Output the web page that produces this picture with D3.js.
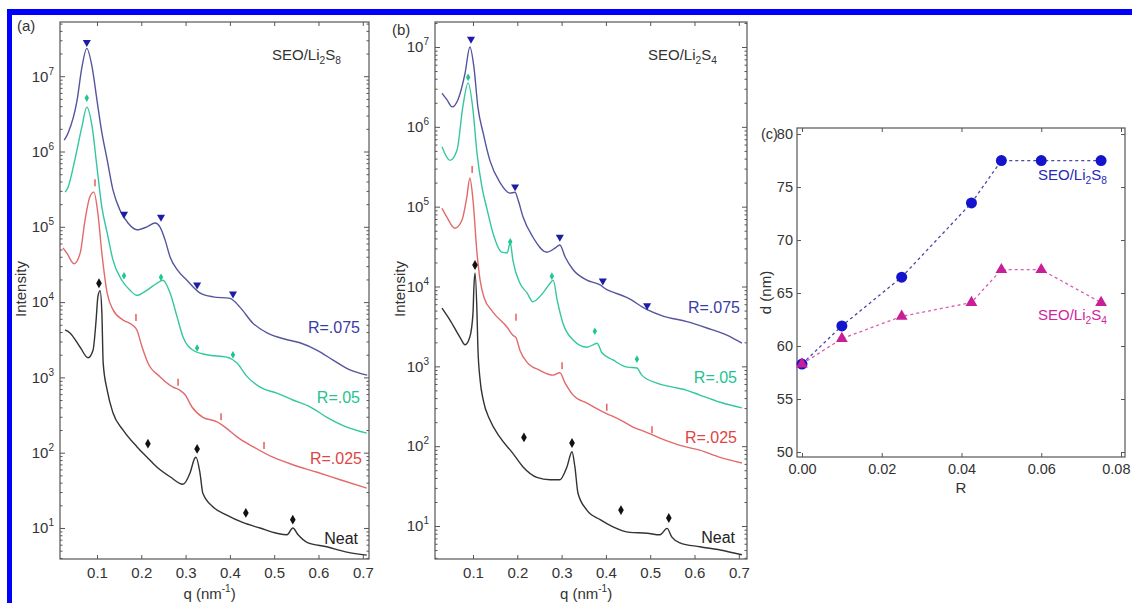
<!DOCTYPE html>
<html>
<head>
  <meta charset="utf-8">
  <script src="https://d3js.org/d3.v7.min.js"></script>
  <style>
    body { margin: 0; background: #fff; }
    svg text { font-family: "Liberation Sans", Arial, sans-serif; fill: #333; }
    .tick line { stroke: #555; }
  </style>
</head>
<body>
<script>
// ---- shared axis values ----
var qTicks = [0.1, 0.2, 0.3, 0.4, 0.5, 0.6, 0.7];
var rTicks = [0, 0.02, 0.04, 0.06, 0.08];
var dTicks = [50, 55, 60, 65, 70, 75, 80];

// ---- panel (a) SEO/Li2S8 : [q (nm^-1), log10 intensity] ----
var aR075 = [[0.026,6.15],[0.035,6.25],[0.055,6.68],[0.066,7.12],[0.077,7.37],[0.089,7.12],[0.100,6.68],[0.111,6.25],[0.123,5.89],[0.136,5.49],[0.152,5.22],[0.170,5.05],[0.190,4.96],[0.213,5.00],[0.231,5.05],[0.242,5.00],[0.254,4.82],[0.265,4.60],[0.281,4.43],[0.303,4.29],[0.333,4.12],[0.362,4.07],[0.400,4.05],[0.423,3.93],[0.452,3.72],[0.484,3.59],[0.529,3.50],[0.558,3.46],[0.597,3.36],[0.633,3.23],[0.671,3.10],[0.710,3.03]];
var aR05 = [[0.028,5.46],[0.035,5.53],[0.050,5.89],[0.066,6.33],[0.077,6.59],[0.089,6.33],[0.100,5.79],[0.111,5.26],[0.123,4.92],[0.136,4.56],[0.156,4.29],[0.174,4.16],[0.190,4.09],[0.213,4.16],[0.235,4.25],[0.249,4.29],[0.265,4.12],[0.281,3.80],[0.294,3.54],[0.317,3.36],[0.348,3.30],[0.393,3.27],[0.416,3.19],[0.439,3.01],[0.468,2.87],[0.506,2.79],[0.542,2.70],[0.581,2.61],[0.619,2.47],[0.664,2.34],[0.709,2.26]];
var aR025 = [[0.023,4.72],[0.032,4.65],[0.048,4.51],[0.062,4.65],[0.073,5.09],[0.084,5.40],[0.093,5.46],[0.102,5.18],[0.111,4.65],[0.123,4.12],[0.136,3.90],[0.159,3.76],[0.179,3.70],[0.190,3.63],[0.202,3.40],[0.215,3.19],[0.242,3.01],[0.272,2.87],[0.287,2.83],[0.299,2.77],[0.314,2.61],[0.339,2.47],[0.371,2.41],[0.389,2.34],[0.416,2.21],[0.452,2.08],[0.497,1.94],[0.542,1.84],[0.597,1.74],[0.649,1.64],[0.709,1.53]];
var aNeat = [[0.028,3.63],[0.039,3.59],[0.062,3.40],[0.080,3.26],[0.091,3.36],[0.098,3.76],[0.102,4.07],[0.107,4.15],[0.111,3.86],[0.114,3.19],[0.123,2.83],[0.136,2.53],[0.159,2.30],[0.190,2.08],[0.213,1.94],[0.235,1.81],[0.265,1.68],[0.294,1.58],[0.310,1.73],[0.321,1.93],[0.3235,1.94],[0.3325,1.73],[0.339,1.46],[0.362,1.28],[0.393,1.17],[0.430,1.07],[0.468,1.00],[0.506,0.93],[0.529,0.91],[0.542,1.00],[0.554,0.91],[0.574,0.81],[0.619,0.75],[0.664,0.68],[0.709,0.64]];
var aR075Marks = [[0.077,7.45],[0.161,5.17],[0.2445,5.13],[0.326,4.23],[0.407,4.11]];
var aR05Marks = [[0.077,6.71],[0.161,4.35],[0.2445,4.33],[0.326,3.39],[0.407,3.30]];
var aR025Marks = [[0.0955,5.58],[0.188,3.79],[0.283,2.93],[0.380,2.47],[0.477,2.09]];
var aNeatMarks = [[0.1045,4.25],[0.215,2.12],[0.326,2.05],[0.436,1.20],[0.542,1.11]];

// ---- panel (b) SEO/Li2S4 ----
var bR075 = [[0.030,6.42],[0.041,6.34],[0.053,6.25],[0.066,6.34],[0.082,6.67],[0.093,7.00],[0.102,6.75],[0.111,6.25],[0.123,5.92],[0.138,5.58],[0.161,5.30],[0.183,5.17],[0.195,5.18],[0.202,5.08],[0.213,4.87],[0.235,4.62],[0.267,4.43],[0.285,4.48],[0.296,4.52],[0.308,4.37],[0.326,4.21],[0.357,4.08],[0.387,4.02],[0.402,3.96],[0.416,3.93],[0.448,3.86],[0.493,3.71],[0.529,3.63],[0.583,3.56],[0.628,3.48],[0.673,3.39],[0.707,3.29]];
var bR05 = [[0.030,5.75],[0.048,5.58],[0.064,5.71],[0.077,6.25],[0.089,6.55],[0.100,6.21],[0.109,5.67],[0.120,5.25],[0.132,4.96],[0.145,4.67],[0.165,4.43],[0.177,4.42],[0.184,4.55],[0.190,4.33],[0.206,4.04],[0.222,3.92],[0.235,3.81],[0.258,3.92],[0.274,4.04],[0.281,4.08],[0.290,3.83],[0.303,3.54],[0.326,3.33],[0.357,3.24],[0.371,3.27],[0.380,3.29],[0.391,3.17],[0.416,3.08],[0.448,2.99],[0.470,2.98],[0.481,2.89],[0.515,2.79],[0.551,2.74],[0.583,2.70],[0.612,2.64],[0.658,2.55],[0.707,2.48]];
var bR025 = [[0.030,4.98],[0.041,4.87],[0.059,4.73],[0.075,4.83],[0.086,5.12],[0.093,5.36],[0.100,5.08],[0.109,4.42],[0.116,4.08],[0.125,3.86],[0.145,3.68],[0.177,3.49],[0.190,3.39],[0.197,3.36],[0.206,3.20],[0.222,3.05],[0.251,2.95],[0.281,2.89],[0.296,2.92],[0.308,2.79],[0.326,2.64],[0.357,2.54],[0.393,2.43],[0.409,2.39],[0.432,2.33],[0.461,2.24],[0.493,2.17],[0.522,2.10],[0.567,2.01],[0.612,1.95],[0.658,1.86],[0.707,1.79]];
var bNeat = [[0.030,3.73],[0.048,3.58],[0.071,3.36],[0.082,3.27],[0.093,3.37],[0.100,3.67],[0.102,3.99],[0.1045,4.17],[0.109,3.67],[0.111,3.24],[0.116,2.83],[0.123,2.58],[0.138,2.33],[0.161,2.11],[0.190,1.91],[0.213,1.74],[0.244,1.61],[0.274,1.58],[0.296,1.58],[0.312,1.74],[0.3235,1.93],[0.330,1.74],[0.337,1.41],[0.357,1.20],[0.387,1.08],[0.416,0.99],[0.454,0.92],[0.493,0.91],[0.522,0.89],[0.538,0.97],[0.549,0.86],[0.567,0.79],[0.612,0.74],[0.658,0.70],[0.707,0.64]];
var bR075Marks = [[0.0955,7.10],[0.195,5.25],[0.296,4.62],[0.393,4.07],[0.493,3.76]];
var bR05Marks = [[0.089,6.62],[0.184,4.56],[0.278,4.13],[0.375,3.44],[0.470,3.09]];
var bR025Marks = [[0.098,5.46],[0.197,3.61],[0.301,3.00],[0.402,2.48],[0.504,2.20]];
var bNeatMarks = [[0.1045,4.27],[0.215,2.11],[0.3235,2.04],[0.434,1.20],[0.542,1.10]];

// ---- panel (c) domain spacing vs R ----
var ratioR = [0, 0.01, 0.025, 0.0425, 0.05, 0.06, 0.075];
var dLi2S8 = [58.3, 61.9, 66.5, 73.5, 77.5, 77.5, 77.5];
var dLi2S4 = [58.3, 60.7, 62.8, 64.1, 67.2, 67.2, 64.1];

var colors = {neat: "#333333", r025: "#e26a6a", r05: "#33c79f", r075: "#55559e"};
var markColors = {neat: "#111111", r025: "#e04545", r05: "#22c490", r075: "#1c1ca8"};

var svg = d3.select("body").append("svg")
    .attr("width", 1132)
    .attr("height", 603);

// blue page border (top and left edges)
svg.append("rect").attr("x", 7).attr("y", 9).attr("width", 1125).attr("height", 6).attr("fill", "#0000ff");
svg.append("rect").attr("x", 7).attr("y", 9).attr("width", 5).attr("height", 594).attr("fill", "#0000ff");

function addSub(text, parts) {
  // parts: [["SEO/Li", false], ["2", true], ...]
  parts.forEach(function (p) {
    var t = text.append("tspan").text(p[0]);
    if (p[1]) t.attr("font-size", "0.68em").attr("dy", 4);
    else t.attr("dy", text.selectAll("tspan").size() > 1 ? -4 : 0);
  });
}

function scatterPanel(cfg) {
  var g = svg.append("g");
  var x = d3.scaleLinear().domain(cfg.qDomain).range([cfg.left, cfg.right]);
  var y = d3.scaleLog().domain(cfg.iDomain).range([cfg.bottom, cfg.top]);

  var majors = [1, 2, 3, 4, 5, 6, 7].map(function (e) { return Math.pow(10, e); })
      .filter(function (v) { return v >= cfg.iDomain[0] && v <= cfg.iDomain[1]; });
  var minors = [];
  [0, 1, 2, 3, 4, 5, 6, 7].forEach(function (e) {
    for (var k = 2; k < 10; k++) {
      var v = k * Math.pow(10, e);
      if (v > cfg.iDomain[0] && v < cfg.iDomain[1]) minors.push(v);
    }
  });

  g.append("rect")
      .attr("x", cfg.left).attr("y", cfg.top)
      .attr("width", cfg.right - cfg.left).attr("height", cfg.bottom - cfg.top)
      .attr("fill", "none").attr("stroke", "#555").attr("stroke-width", 1.2);

  // bottom / top q ticks
  var xb = g.append("g").attr("transform", "translate(0," + cfg.bottom + ")")
      .call(d3.axisBottom(x).tickValues(qTicks).tickSize(-4).tickPadding(8).tickFormat(d3.format(".1f")));
  xb.select(".domain").remove();
  xb.selectAll("text").attr("font-size", 15).attr("fill", "#333");
  g.append("g").attr("transform", "translate(0," + cfg.top + ")")
      .call(d3.axisTop(x).tickValues(qTicks).tickSize(-4).tickFormat(""))
      .select(".domain").remove();

  // log ticks on both sides
  [["L", cfg.left], ["R", cfg.right]].forEach(function (s) {
    var ax = s[0] === "L" ? d3.axisLeft : d3.axisRight;
    g.append("g").attr("transform", "translate(" + s[1] + ",0)")
        .call(ax(y).tickValues(minors).tickSize(-2.5).tickFormat(""))
        .select(".domain").remove();
    var mg = g.append("g").attr("transform", "translate(" + s[1] + ",0)")
        .call(ax(y).tickValues(majors).tickSize(-5).tickPadding(6).tickFormat(""));
    mg.select(".domain").remove();
    if (s[0] === "L") {
      mg.selectAll(".tick text").attr("font-size", 15).attr("fill", "#333").each(function (d) {
        var t = d3.select(this);
        t.append("tspan").text("10");
        t.append("tspan").attr("dy", -7).attr("font-size", 10).text(Math.round(Math.log10(d)));
      });
    }
  });

  var line = d3.line()
      .x(function (d) { return x(d[0]); })
      .y(function (d) { return y(Math.pow(10, d[1])); })
      .curve(d3.curveMonotoneX);

  cfg.curves.forEach(function (c) {
    g.append("path").datum(c.data)
        .attr("fill", "none").attr("stroke", colors[c.key]).attr("stroke-width", 1.4)
        .attr("d", line);
  });

  // peak markers
  cfg.curves.forEach(function (c) {
    var pts = g.selectAll(null).data(c.marks).enter();
    if (c.key === "r025") {
      pts.append("line")
          .attr("x1", function (d) { return x(d[0]); }).attr("x2", function (d) { return x(d[0]); })
          .attr("y1", function (d) { return y(Math.pow(10, d[1])) - 4; })
          .attr("y2", function (d) { return y(Math.pow(10, d[1])) + 3; })
          .attr("stroke", markColors.r025).attr("stroke-width", 1.3);
    } else {
      var sym = c.key === "r075" ? d3.symbol(d3.symbolTriangle, 28)
          : c.key === "r05" ? d3.symbol(d3.symbolDiamond, 17) : d3.symbol(d3.symbolDiamond, 28);
      pts.append("path")
          .attr("d", sym)
          .attr("transform", function (d) {
            return "translate(" + x(d[0]) + "," + y(Math.pow(10, d[1])) + ")" +
              (c.key === "r075" ? " rotate(180)" : "");
          })
          .attr("fill", markColors[c.key]);
    }
  });

  // curve labels
  cfg.curves.forEach(function (c) {
    g.append("text").attr("x", c.lx).attr("y", c.ly)
        .attr("text-anchor", "end").attr("font-size", 16)
        .style("fill", c.key === "neat" ? "#222" : c.key === "r075" ? "#3b3ba6" : markColors[c.key])
        .text(c.label);
  });

  var title = g.append("text").attr("x", cfg.titleX).attr("y", 60).attr("font-size", 15).style("fill", "#333");
  addSub(title, [["SEO/Li", false], ["2", true], ["S", false], [cfg.sub, true]]);

  g.append("text").attr("x", cfg.tagX).attr("y", cfg.tagY).attr("font-size", 15).text(cfg.tag);

  g.append("text")
      .attr("transform", "translate(" + cfg.yLabelX + ",289) rotate(-90)")
      .attr("text-anchor", "middle").attr("font-size", 15).text("Intensity");

  var xl = g.append("text").attr("x", (cfg.left + cfg.right) / 2 - 5).attr("y", 599)
      .attr("text-anchor", "middle").attr("font-size", 15);
  xl.append("tspan").text("q (nm");
  xl.append("tspan").attr("dy", -7).attr("font-size", 10).text("-1");
  xl.append("tspan").attr("dy", 7).text(")");
}

scatterPanel({
  left: 60, right: 369, top: 22, bottom: 559,
  qDomain: [0.0165, 0.714], iDomain: [Math.pow(10, 0.588), Math.pow(10, 7.72)],
  curves: [
    {key: "r075", data: aR075, marks: aR075Marks, label: "R=.075", lx: 360, ly: 333},
    {key: "r05", data: aR05, marks: aR05Marks, label: "R=.05", lx: 360, ly: 403},
    {key: "r025", data: aR025, marks: aR025Marks, label: "R=.025", lx: 362, ly: 464},
    {key: "neat", data: aNeat, marks: aNeatMarks, label: "Neat", lx: 358, ly: 544}
  ],
  titleX: 272, sub: "8", tag: "(a)", tagX: 17, tagY: 31, yLabelX: 26
});

scatterPanel({
  left: 435, right: 747, top: 22, bottom: 559,
  qDomain: [0.0142, 0.7185], iDomain: [Math.pow(10, 0.587), Math.pow(10, 7.313)],
  curves: [
    {key: "r075", data: bR075, marks: bR075Marks, label: "R=.075", lx: 740, ly: 313},
    {key: "r05", data: bR05, marks: bR05Marks, label: "R=.05", lx: 737, ly: 383},
    {key: "r025", data: bR025, marks: bR025Marks, label: "R=.025", lx: 737, ly: 443},
    {key: "neat", data: bNeat, marks: bNeatMarks, label: "Neat", lx: 735, ly: 543}
  ],
  titleX: 648, sub: "4", tag: "(b)", tagX: 392, tagY: 35, yLabelX: 405
});

// ---- panel (c) ----
(function () {
  var left = 797, right = 1125, top = 128, bottom = 457;
  var g = svg.append("g");
  var x = d3.scaleLinear().domain([-0.00125, 0.081]).range([left, right]);
  var y = d3.scaleLinear().domain([49.53, 80.57]).range([bottom, top]);

  g.append("rect").attr("x", left).attr("y", top)
      .attr("width", right - left).attr("height", bottom - top)
      .attr("fill", "none").attr("stroke", "#555").attr("stroke-width", 1.2);

  var xb = g.append("g").attr("transform", "translate(0," + bottom + ")")
      .call(d3.axisBottom(x).tickValues(rTicks).tickSize(-4).tickPadding(7).tickFormat(d3.format(".2f")));
  xb.select(".domain").remove();
  xb.selectAll("text").attr("font-size", 14.5).attr("fill", "#333");
  // last label sits against the page edge: keep it inside
  xb.selectAll(".tick text").filter(function (d) { return d === 0.08; })
      .attr("text-anchor", "end").attr("x", 9);
  g.append("g").attr("transform", "translate(0," + top + ")")
      .call(d3.axisTop(x).tickValues(rTicks).tickSize(-4).tickFormat(""))
      .select(".domain").remove();
  var yl = g.append("g").attr("transform", "translate(" + left + ",0)")
      .call(d3.axisLeft(y).tickValues(dTicks).tickSize(-4).tickPadding(4));
  yl.select(".domain").remove();
  yl.selectAll("text").attr("font-size", 14.5).attr("fill", "#333");
  g.append("g").attr("transform", "translate(" + right + ",0)")
      .call(d3.axisRight(y).tickValues(dTicks).tickSize(-4).tickFormat(""))
      .select(".domain").remove();

  var s8 = ratioR.map(function (r, i) { return [r, dLi2S8[i]]; });
  var s4 = ratioR.map(function (r, i) { return [r, dLi2S4[i]]; });
  var line = d3.line().x(function (d) { return x(d[0]); }).y(function (d) { return y(d[1]); });

  g.append("path").datum(s8).attr("d", line).attr("fill", "none")
      .attr("stroke", "#4848a8").attr("stroke-width", 1.3).attr("stroke-dasharray", "3,3");
  g.append("path").datum(s4).attr("d", line).attr("fill", "none")
      .attr("stroke", "#d85cb0").attr("stroke-width", 1.3).attr("stroke-dasharray", "3,3");

  g.selectAll(".c8").data(s8).enter().append("circle")
      .attr("cx", function (d) { return x(d[0]); }).attr("cy", function (d) { return y(d[1]); })
      .attr("r", 5.5).attr("fill", "#1414cc");
  g.selectAll(".c4").data(s4).enter().append("path")
      .attr("d", d3.symbol(d3.symbolTriangle, 60))
      .attr("transform", function (d) { return "translate(" + x(d[0]) + "," + y(d[1]) + ")"; })
      .attr("fill", "#c81e96");

  var t8 = g.append("text").attr("x", 1038).attr("y", 180).attr("font-size", 15).style("fill", "#2828b8");
  addSub(t8, [["SEO/Li", false], ["2", true], ["S", false], ["8", true]]);
  var t4 = g.append("text").attr("x", 1038).attr("y", 320).attr("font-size", 15).style("fill", "#d0259e");
  addSub(t4, [["SEO/Li", false], ["2", true], ["S", false], ["4", true]]);

  g.append("text").attr("x", 761).attr("y", 139).attr("font-size", 14.5).text("(c)");
  g.append("text").attr("x", (left + right) / 2).attr("y", 493)
      .attr("text-anchor", "middle").attr("font-size", 15).text("R");
  g.append("text").attr("transform", "translate(771," + (top + bottom) / 2 + ") rotate(-90)")
      .attr("text-anchor", "middle").attr("font-size", 15).text("d (nm)");
})();
</script>
</body>
</html>
